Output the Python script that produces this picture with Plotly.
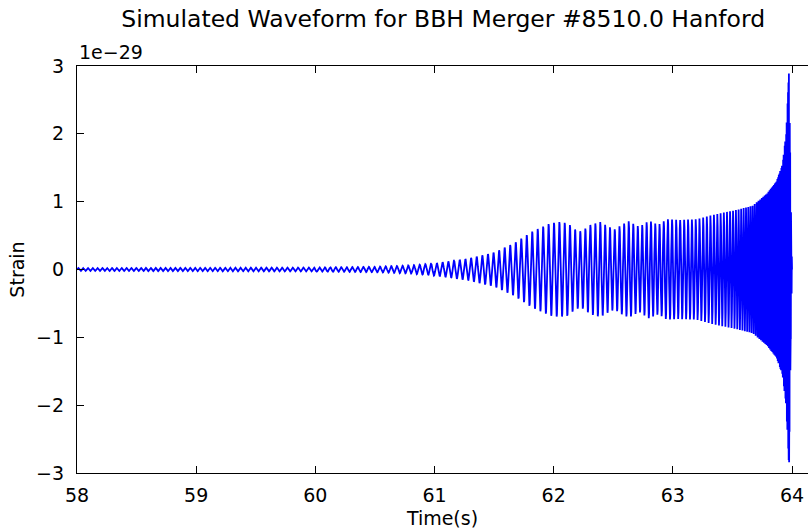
import numpy as np
import plotly.graph_objects as go

# Strain envelope (units of 1e-29) sampled at selected times (s)
env_time = [58.0, 58.5, 59.0, 59.5, 60.0, 60.5, 60.8, 61.0, 61.28, 61.5,
            61.67, 61.83, 61.97, 62.05, 62.12, 62.18, 62.23, 62.31, 62.39,
            62.45, 62.51, 62.57, 62.63, 62.68, 62.72, 62.8, 62.85, 62.88,
            62.95, 63.05, 63.2, 63.3, 63.4, 63.54, 63.67, 63.79, 63.87,
            63.92, 63.95, 63.975, 63.99, 64.0]
env_amp = [0.022, 0.024, 0.026, 0.028, 0.03, 0.04, 0.06, 0.09, 0.16, 0.25,
           0.39, 0.57, 0.68, 0.70, 0.68, 0.59, 0.56, 0.66, 0.70,
           0.64, 0.59, 0.66, 0.71, 0.66, 0.63, 0.72, 0.68, 0.66,
           0.74, 0.73, 0.74, 0.79, 0.83, 0.88, 0.94, 1.12, 1.30,
           1.55, 2.0, 2.95, 1.0, 0.0]

# Oscillation rate of the trace (cycles per second) at selected times
freq_time = [58.0, 59.0, 60.0, 61.0, 62.0, 62.5, 63.0, 63.3, 63.5, 63.7,
             63.85, 63.95, 64.0]
freq_hz = [25.0, 24.0, 22.0, 20.7, 22.0, 25.0, 29.0, 33.0, 40.0, 60.0,
           120.0, 250.0, 300.0]

# Axis tick values/labels
x_ticks = [58, 59, 60, 61, 62, 63, 64]
y_ticks = [-3, -2, -1, 0, 1, 2, 3]
y_tick_text = ["\u22123", "\u22122", "\u22121", "0", "1", "2", "3"]

# Build the strain trace from envelope and phase
fs = 4096
t = np.arange(env_time[0], env_time[-1] + 0.5 / fs, 1.0 / fs)
f_t = np.interp(t, freq_time, freq_hz)
phase = 2 * np.pi * np.concatenate([[0.0], np.cumsum(0.5 * (f_t[1:] + f_t[:-1]) / fs)])
strain = np.interp(t, env_time, env_amp) * np.sin(phase)

font_family = "DejaVu Sans"

fig = go.Figure()
fig.add_trace(go.Scatter(
    x=t, y=strain, mode="lines",
    line=dict(color="#0000ff", width=1.8),
    hoverinfo="skip", showlegend=False,
))

fig.update_layout(
    width=808, height=529,
    margin=dict(l=77, r=0, t=66, b=56),
    paper_bgcolor="white", plot_bgcolor="white",
    font=dict(family=font_family, size=19, color="black"),
    title=dict(
        text="Simulated Waveform for BBH Merger #8510.0 Hanford",
        x=0.5485, xanchor="center", y=1 - 19 / 529, yanchor="middle",
        font=dict(size=23.5, color="black"),
    ),
    xaxis=dict(
        range=[58, 64.134], tickvals=x_ticks, ticktext=[str(v) for v in x_ticks],
        showgrid=False, zeroline=False,
        showline=True, linecolor="black", linewidth=1.3, mirror="ticks",
        ticks="inside", ticklen=7, tickwidth=1, tickcolor="black",
        ticklabelstandoff=5,
        title=dict(text="Time(s)", standoff=6, font=dict(size=19)),
    ),
    yaxis=dict(
        range=[-3, 3], tickvals=y_ticks, ticktext=y_tick_text,
        showgrid=False, zeroline=False,
        showline=True, linecolor="black", linewidth=1.3, mirror=False,
        ticks="inside", ticklen=7, tickwidth=1, tickcolor="black",
        ticklabelstandoff=8,
        title=dict(text="Strain", standoff=6, font=dict(size=19)),
    ),
    annotations=[dict(
        text="1e\u221229", xref="paper", yref="paper", x=0, y=1,
        xanchor="left", yanchor="bottom", yshift=1, showarrow=False,
        font=dict(size=19, color="black"),
    )],
)

fig.write_html("out.html")
